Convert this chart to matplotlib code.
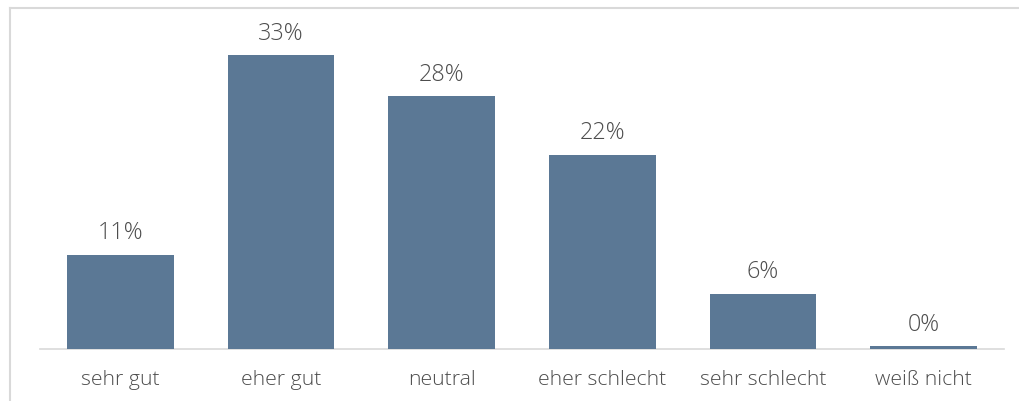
import matplotlib.pyplot as plt
from matplotlib.lines import Line2D

plt.rcParams["font.family"] = ["Open Sans", "DejaVu Sans"]

categories = ["sehr gut", "eher gut", "neutral", "eher schlecht", "sehr schlecht", "weiß nicht"]
values = [10.6, 33.0, 28.4, 21.8, 6.2, 0.3]
labels = ["11%", "33%", "28%", "22%", "6%", "0%"]

bar_color = "#5b7895"
text_color = "#4d4d4d"
grid_color = "#d9d9d9"

W, H = 1020, 402
fig = plt.figure(figsize=(W / 100, H / 100), dpi=100)
ax = fig.add_axes([40 / W, (H - 350) / H, 964 / W, 338 / H])

x = range(len(categories))
bars = ax.bar(x, values, width=0.665, color=bar_color, zorder=2)

for b, lab in zip(bars, labels):
    ax.annotate(lab, (b.get_x() + b.get_width() / 2, b.get_height()),
                xytext=(0, 12), textcoords="offset points",
                ha="center", va="baseline", fontsize=16.8, color=text_color,
                fontweight="light")

ax.set_xlim(-0.5, len(categories) - 0.5)
ax.set_ylim(0, 38)
ax.set_xticks(list(x))
ax.set_xticklabels(categories, fontsize=15.3, color=text_color, fontweight="light")
ax.tick_params(axis="x", length=0, pad=14.5)
ax.set_yticks([])
for s in ["top", "right", "left"]:
    ax.spines[s].set_visible(False)
ax.spines["bottom"].set_color(grid_color)
ax.spines["bottom"].set_linewidth(1.2)
ax.spines["bottom"].set_zorder(1)

# outer frame (partial, as cropped)
fig.add_artist(Line2D([10.5 / W, 1], [1 - 8.5 / H, 1 - 8.5 / H], color=grid_color, lw=1.5))
fig.add_artist(Line2D([10.5 / W, 10.5 / W], [0, 1 - 8.5 / H], color=grid_color, lw=1.5))

fig.savefig("out.png", dpi=100, facecolor="white")
